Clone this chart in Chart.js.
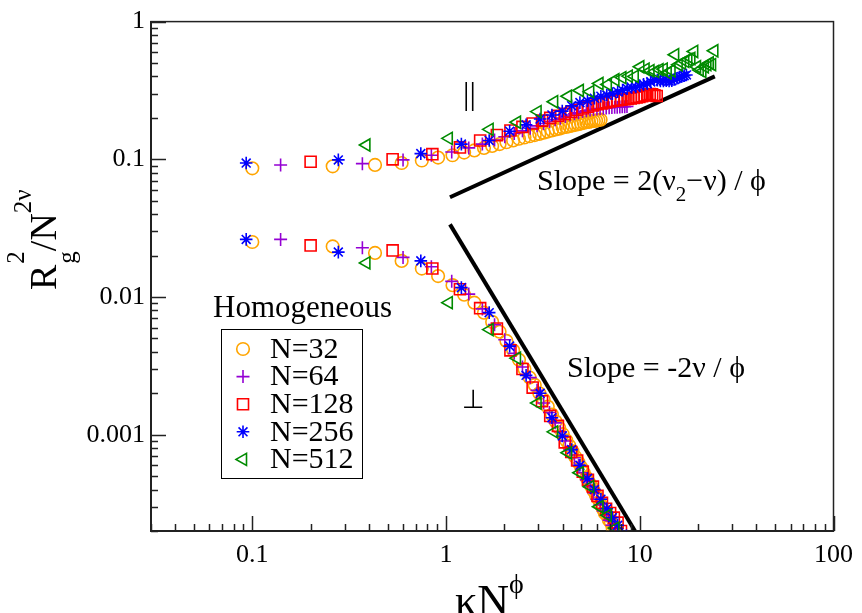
<!DOCTYPE html>
<html>
<head>
<meta charset="utf-8">
<script src="https://cdn.jsdelivr.net/npm/chart.js@4.4.1/dist/chart.umd.min.js"></script>
<style>
    html, body { margin: 0; padding: 0; background: #fff; }
    #caixa { position: relative; width: 862px; height: 613px; }
</style>
</head>
<body>
<div id="caixa"><canvas id="grafico"></canvas></div>
<script>
// eixos
const xMin = 0.03, xMax = 100;
const yMin = 0.0002, yMax = 1;
const xTicks = [0.1, 1, 10, 100];
const xTickLabels = ['0.1', '1', '10', '100'];
const yTicks = [0.001, 0.01, 0.1, 1];
const yTickLabels = ['0.001', '0.01', '0.1', '1'];
const minorMult = [2, 3, 4, 5, 6, 7, 8, 9];

const seriesNames = ['N=32', 'N=64', 'N=128', 'N=256', 'N=512'];

// N=32
const x32 = [0.10, 0.26, 0.43, 0.59, 0.75, 0.91, 1.08, 1.24, 1.40, 1.57, 1.73, 1.89, 2.05, 2.22, 2.38, 2.54, 2.70, 2.87, 3.03, 3.19,
    3.35, 3.52, 3.68, 3.84, 4.00, 4.17, 4.33, 4.49, 4.65, 4.82, 4.98, 5.14, 5.30, 5.47, 5.63, 5.79, 5.95, 6.12, 6.28, 6.44,
    6.60, 6.77, 6.93, 7.09, 7.25, 7.42, 7.58];
const up32 = [0.086, 0.089, 0.091, 0.094, 0.098, 0.103, 0.107, 0.112, 0.116, 0.121, 0.125, 0.129, 0.133, 0.137, 0.141, 0.144, 0.147, 0.150, 0.153, 0.156,
    0.159, 0.162, 0.165, 0.167, 0.170, 0.172, 0.174, 0.176, 0.178, 0.180, 0.182, 0.184, 0.186, 0.187, 0.189, 0.190, 0.191, 0.193, 0.194];
const low32 = [0.0251, 0.0233, 0.0209, 0.0183, 0.0161, 0.0142, 0.0122, 0.0104, 0.0091, 0.0077, 0.0066, 0.0056, 0.0048, 0.0041, 0.0035, 0.0030, 0.0026, 0.0023, 0.0020, 0.0018,
    0.0016, 0.0014, 0.00125, 0.00112, 0.00101, 0.00091, 0.00083, 0.00076, 0.00069, 0.00063, 0.00058, 0.00053, 0.00049, 0.00045, 0.00042, 0.00039, 0.00036, 0.00034, 0.00031, 0.00029,
    0.00027, 0.00026, 0.00024, 0.00023, 0.00021, 0.00020, 0.00019];

// N=64
const x64 = [0.14, 0.37, 0.60, 0.84, 1.07, 1.31, 1.54, 1.78, 2.01, 2.25, 2.48, 2.72, 2.95, 3.19, 3.42, 3.66, 3.89, 4.13, 4.36, 4.60,
    4.83, 5.07, 5.30, 5.54, 5.77, 6.01, 6.24, 6.48, 6.71, 6.95, 7.18, 7.42, 7.65, 7.89, 8.12, 8.36, 8.59];
const up64 = [0.091, 0.093, 0.099, 0.107, 0.113, 0.121, 0.129, 0.138, 0.146, 0.154, 0.161, 0.168, 0.175, 0.182, 0.188, 0.194, 0.199, 0.205, 0.210, 0.214,
    0.218, 0.222, 0.225, 0.228, 0.230, 0.232, 0.234, 0.235, 0.236, 0.237, 0.238, 0.239, 0.239, 0.240, 0.241, 0.241, 0.242];
const low64 = [0.0262, 0.0228, 0.0194, 0.0166, 0.0130, 0.0105, 0.0082, 0.0063, 0.0049, 0.0039, 0.0031, 0.0026, 0.0021, 0.0017, 0.00145, 0.00122, 0.00105, 0.00090, 0.00078, 0.00068,
    0.00060, 0.00053, 0.00047, 0.00042, 0.00038, 0.00034, 0.00031, 0.00028, 0.00026, 0.00024, 0.00022, 0.00021, 0.00019, 0.00018];

// N=128
const x128 = [0.20, 0.53, 0.85, 1.18, 1.50, 1.83, 2.15, 2.48, 2.80, 3.13, 3.45, 3.78, 4.10, 4.43, 4.75, 5.08, 5.40, 5.73, 6.05, 6.38,
    6.70, 7.03, 7.35, 7.68, 8.00, 8.33, 8.65, 8.98, 9.30, 9.63, 9.95, 10.28, 10.60, 10.93, 11.25, 11.58, 11.90, 12.23];
const up128 = [0.096, 0.100, 0.109, 0.122, 0.137, 0.150, 0.162, 0.172, 0.182, 0.191, 0.200, 0.207, 0.214, 0.221, 0.228, 0.234, 0.240, 0.246, 0.251, 0.255,
    0.259, 0.263, 0.266, 0.269, 0.271, 0.273, 0.275, 0.277, 0.279, 0.281, 0.284, 0.287, 0.291, 0.295, 0.298, 0.296, 0.292, 0.288];
const low128 = [0.0237, 0.0218, 0.0161, 0.0114, 0.0083, 0.0059, 0.0041, 0.0030, 0.0022, 0.00175, 0.00137, 0.00116, 0.00088, 0.00075, 0.00065, 0.00054, 0.00047, 0.00042, 0.00036, 0.00032,
    0.00029, 0.00027, 0.00025, 0.00023, 0.00020, 0.00018];

// N=256
const x256 = [0.093, 0.278, 0.741, 1.20, 1.67, 2.13, 2.59, 3.06, 3.52, 3.98, 4.45, 4.91, 5.37, 5.83, 6.30, 6.76, 7.22, 7.69, 8.15, 8.61,
    9.08, 9.54, 10.00, 10.46, 10.93, 11.39, 11.85, 12.32, 12.78, 13.24, 13.70, 14.17, 14.63, 15.09, 15.56, 16.02, 16.48, 16.95, 17.41];
const up256 = [0.094, 0.099, 0.110, 0.129, 0.137, 0.160, 0.178, 0.196, 0.210, 0.224, 0.245, 0.258, 0.266, 0.278, 0.287, 0.293, 0.300, 0.310, 0.318, 0.327,
    0.332, 0.335, 0.342, 0.350, 0.354, 0.365, 0.380, 0.376, 0.370, 0.371, 0.372, 0.370, 0.372, 0.380, 0.388, 0.395, 0.400, 0.405, 0.410];
const low256 = [0.0262, 0.0212, 0.0183, 0.0117, 0.0077, 0.0044, 0.0027, 0.0020, 0.00133, 0.00098, 0.00078, 0.00060, 0.00048, 0.00040, 0.00034, 0.00029, 0.00025, 0.00022, 0.00019];

// N=512
const x512 = [0.388, 1.033, 1.678, 2.323, 2.968, 3.613, 4.258, 4.903, 5.548, 6.193, 6.838, 7.483, 8.128, 8.773, 9.418, 10.06, 10.71, 11.35, 12.00, 12.64,
    13.29, 13.93, 14.58, 15.22, 15.87, 16.51, 17.16, 17.80, 18.45, 19.09, 19.74, 20.38, 21.03, 21.67, 22.32, 22.96, 23.61, 24.25];
const up512 = [0.127, 0.142, 0.165, 0.186, 0.222, 0.262, 0.287, 0.316, 0.310, 0.355, 0.350, 0.378, 0.392, 0.402, 0.400, 0.470, 0.452, 0.440, 0.435, 0.448,
    0.452, 0.425, 0.440, 0.575, 0.486, 0.500, 0.515, 0.530, 0.540, 0.607, 0.470, 0.445, 0.435, 0.470, 0.487, 0.500, 0.487, 0.614];
const low512 = [0.0177, 0.0091, 0.0058, 0.0036, 0.0017, 0.00105, 0.00074, 0.00053, 0.00042, 0.00030, 0.00026, 0.00021, 0.00017];

// retas de inclinação
const retaParalelaX = [1.048, 24.4];
const retaParalelaY = [0.053, 0.40];
const retaPerpX = [1.048, 9.45];
const retaPerpY = [0.0337, 0.0002];

const serif = '"Liberation Serif", "Times New Roman", serif';

function pontos(xs, up, low) {
    let lista = [];
    for (let i = 0; i < up.length; i++) lista.push({ x: xs[i], y: up[i] });
    for (let i = 0; i < low.length; i++) lista.push({ x: xs[i], y: low[i] });
    return lista;
}

function reta(xs, ys) {
    return xs.map((x, i) => ({ x: x, y: ys[i] }));
}

function serie(i, xs, up, low, cor, estilo, raio, rot) {
    return {
        label: seriesNames[i],
        data: pontos(xs, up, low),
        showLine: false,
        pointStyle: estilo,
        pointRadius: raio,
        pointRotation: rot,
        pointBorderColor: cor,
        pointBackgroundColor: 'rgba(0,0,0,0)',
        pointBorderWidth: 1.6,
        borderColor: cor,
        backgroundColor: 'rgba(0,0,0,0)',
        order: 10 - i
    };
}

// texto com partes (sub/sobrescrito)
function escreverPartes(ctx, partes, x, y) {
    let px = x;
    for (let p of partes) {
        ctx.font = p.size + 'px ' + serif;
        ctx.fillText(p.t, px, y + (p.dy || 0));
        px += ctx.measureText(p.t).width;
    }
}

let pluginMoldura = {
    id: 'moldura',
    afterDraw: function (chart) {
        let ctx = chart.ctx;
        let a = chart.chartArea;
        let sx = chart.scales.x;
        let sy = chart.scales.y;

        ctx.save();
        ctx.strokeStyle = '#222';
        ctx.lineWidth = 1.5;
        ctx.strokeRect(a.left, a.top, a.right - a.left, a.bottom - a.top);

        // ticks para dentro
        ctx.beginPath();
        for (let d = -2; d <= 2; d++) {
            let dec = Math.pow(10, d);
            for (let m of [1].concat(minorMult)) {
                let v = m * dec;
                if (v < xMin || v > xMax) continue;
                let px = Math.round(sx.getPixelForValue(v)) + 0.5;
                let len = m === 1 ? 15 : 7;
                ctx.moveTo(px, a.bottom);
                ctx.lineTo(px, a.bottom - len);
            }
        }
        for (let d = -4; d <= 0; d++) {
            let dec = Math.pow(10, d);
            for (let m of [1].concat(minorMult)) {
                let v = m * dec;
                if (v < yMin * 0.999 || v > yMax) continue;
                let py = Math.round(sy.getPixelForValue(v)) + 0.5;
                let len = m === 1 ? 15 : 7;
                ctx.moveTo(a.left, py);
                ctx.lineTo(a.left + len, py);
            }
        }
        ctx.stroke();

        // legenda
        ctx.fillStyle = '#000';
        ctx.textBaseline = 'alphabetic';
        ctx.font = '31px ' + serif;
        ctx.fillText('Homogeneous', 213, 317);

        ctx.lineWidth = 1;
        ctx.strokeStyle = '#000';
        ctx.strokeRect(221.5, 329.5, 141, 149);
        let ds = chart.data.datasets;
        for (let i = 0; i < seriesNames.length; i++) {
            let d = ds[i];
            let ly = 349 + i * 27.6;
            ctx.strokeStyle = d.pointBorderColor;
            ctx.fillStyle = 'rgba(0,0,0,0)';
            ctx.lineWidth = d.pointBorderWidth;
            Chart.helpers.drawPoint(ctx, {
                pointStyle: d.pointStyle,
                rotation: d.pointRotation,
                radius: d.pointRadius,
                borderWidth: d.pointBorderWidth
            }, 243, ly);
            ctx.fillStyle = '#000';
            ctx.font = '30px ' + serif;
            ctx.textBaseline = 'middle';
            ctx.fillText(seriesNames[i], 270, ly + 1);
        }

        // anotações
        ctx.textBaseline = 'alphabetic';
        ctx.fillStyle = '#000';
        escreverPartes(ctx, [
            { t: 'Slope = 2(\u03bd', size: 30 },
            { t: '2', size: 21, dy: 11 },
            { t: '\u2212\u03bd) / \u03d5', size: 30 }
        ], 537, 190);
        escreverPartes(ctx, [{ t: 'Slope = -2\u03bd / \u03d5', size: 30 }], 567, 377);

        ctx.font = '32px ' + serif;
        ctx.fillText('||', 463, 104);
        ctx.font = '26px "DejaVu Sans", sans-serif';
        ctx.fillText('\u22a5', 462, 408);

        // título eixo x
        escreverPartes(ctx, [
            { t: '\u03baN', size: 44 },
            { t: '\u03d5', size: 28, dy: -22 }
        ], 455, 615);

        // título eixo y (girado)
        ctx.translate(56, 290);
        ctx.rotate(-Math.PI / 2);
        ctx.font = '38px ' + serif;
        let wR = ctx.measureText('R').width;
        ctx.fillText('R', 0, 0);
        ctx.font = '25px ' + serif;
        ctx.fillText('g', wR + 1, 19);
        ctx.fillText('2', wR + 1, -32);
        let wg = Math.max(ctx.measureText('g').width, ctx.measureText('2').width);
        ctx.font = '38px ' + serif;
        let xN = wR + 1 + wg;
        ctx.fillText('/N', xN, 0);
        let wN = ctx.measureText('/N').width;
        ctx.font = '25px ' + serif;
        ctx.fillText('2\u03bd', xN + wN, -25);

        ctx.restore();
    }
};

const ctxG = document.getElementById('grafico');

new Chart(ctxG, {
    type: 'scatter',
    data: {
        datasets: [
            serie(0, x32, up32, low32, '#FFA500', 'circle', 6.3, 0),
            serie(1, x64, up64, low64, '#9400D3', 'cross', 6.5, 0),
            serie(2, x128, up128, low128, '#FF0000', 'rect', 7.8, 0),
            serie(3, x256, up256, low256, '#0000FF', 'star', 6.3, 0),
            serie(4, x512, up512, low512, '#008B00', 'triangle', 7, -90),
            {
                label: 'paralelo',
                data: reta(retaParalelaX, retaParalelaY),
                showLine: true,
                borderColor: '#000',
                borderWidth: 4,
                pointRadius: 0,
                order: 20
            },
            {
                label: 'perpendicular',
                data: reta(retaPerpX, retaPerpY),
                showLine: true,
                borderColor: '#000',
                borderWidth: 4,
                pointRadius: 0,
                order: 20
            }
        ]
    },
    options: {
        responsive: true,
        maintainAspectRatio: false,
        animation: false,
        layout: { padding: { left: 0, top: 20, right: 23, bottom: 0 } },
        scales: {
            x: {
                type: 'logarithmic',
                min: xMin,
                max: xMax,
                afterBuildTicks: function (scale) {
                    scale.ticks = xTicks.map(v => ({ value: v }));
                },
                afterFit: function (scale) { scale.height = 82; },
                ticks: {
                    autoSkip: false,
                    maxRotation: 0,
                    padding: 9,
                    color: '#000',
                    font: { family: serif, size: 26 },
                    callback: function (value, index) { return xTickLabels[index]; }
                },
                grid: { display: false, drawTicks: false },
                border: { display: true, color: '#222', width: 2 }
            },
            y: {
                type: 'logarithmic',
                min: yMin,
                max: yMax,
                afterBuildTicks: function (scale) {
                    scale.ticks = yTicks.map(v => ({ value: v }));
                },
                afterFit: function (scale) { scale.width = 151; },
                ticks: {
                    autoSkip: false,
                    padding: 6,
                    color: '#000',
                    font: { family: serif, size: 26 },
                    callback: function (value, index) { return yTickLabels[index]; }
                },
                grid: { display: false, drawTicks: false },
                border: { display: true, color: '#222', width: 2 }
            }
        },
        plugins: {
            legend: { display: false },
            tooltip: { enabled: false }
        }
    },
    plugins: [pluginMoldura]
});
</script>
</body>
</html>
